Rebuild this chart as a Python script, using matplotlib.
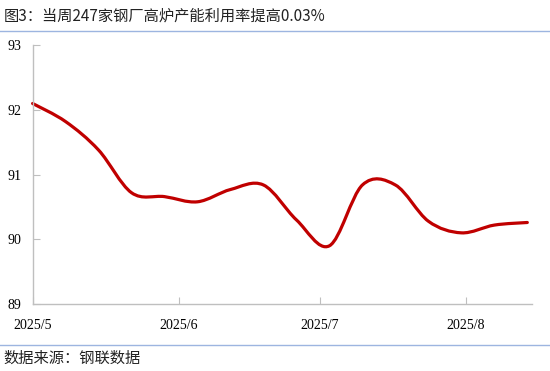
import matplotlib
matplotlib.use('Agg')
import matplotlib.pyplot as plt
import matplotlib.dates as mdates
from matplotlib.path import Path
from matplotlib.patches import PathPatch
import numpy as np
import pandas as pd

# weekly blast furnace capacity utilisation, 247 steel mills (%)
dates = ['2025-05-01', '2025-05-08', '2025-05-15', '2025-05-22', '2025-05-29',
         '2025-06-05', '2025-06-12', '2025-06-19', '2025-06-26', '2025-07-03',
         '2025-07-10', '2025-07-17', '2025-07-24', '2025-07-31', '2025-08-07',
         '2025-08-14']
utilisation = [92.10, 91.82, 91.38, 90.72, 90.66, 90.58, 90.77, 90.84,
               90.30, 89.90, 90.84, 90.84, 90.28, 90.10, 90.22, 90.26]

tick_dates = ['2025-05-01', '2025-06-01', '2025-07-01', '2025-08-01']
tick_labels = ['2025/5', '2025/6', '2025/7', '2025/8']
y_ticks = [89, 90, 91, 92, 93]

title = '图3：当周247家钢厂高炉产能利用率提高0.03%'
source = '数据来源：钢联数据'

cjk = ['Noto Sans CJK SC', 'DejaVu Sans']
serif = 'Liberation Serif'
red = '#C00000'
grey = '#BFBFBF'
blue = '#9DB5E0'

x = mdates.date2num(pd.to_datetime(dates))
y = np.array(utilisation)

fig = plt.figure(figsize=(5.5, 3.71), dpi=100)
ax = fig.add_axes([0.0593, 0.1806, 0.908, 0.6974])

# smoothed line (Excel-like), drawn as cubic bezier segments through the data
verts = [(x[0], y[0])]
codes = [Path.MOVETO]
n = len(x)
for i in range(n - 1):
    p0 = np.array([x[max(i - 1, 0)], y[max(i - 1, 0)]])
    p1 = np.array([x[i], y[i]])
    p2 = np.array([x[i + 1], y[i + 1]])
    p3 = np.array([x[min(i + 2, n - 1)], y[min(i + 2, n - 1)]])
    c1 = p1 + (p2 - p0) / 6
    c2 = p2 - (p3 - p1) / 6
    verts += [tuple(c1), tuple(c2), tuple(p2)]
    codes += [Path.CURVE4] * 3
ax.add_patch(PathPatch(Path(verts, codes), fill=False, edgecolor=red,
                       linewidth=2.3, capstyle='round', joinstyle='round',
                       clip_on=False))

ax.set_xlim(mdates.date2num(pd.Timestamp('2025-05-01')),
            mdates.date2num(pd.Timestamp('2025-08-15')))
ax.set_ylim(89, 93)
ax.set_yticks(y_ticks)
ax.set_yticklabels([str(v) for v in y_ticks], fontfamily=serif, fontsize=10)
ax.set_xticks(mdates.date2num(pd.to_datetime(tick_dates)))
ax.set_xticklabels(tick_labels, fontfamily=serif, fontsize=10)

for side in ['top', 'right']:
    ax.spines[side].set_visible(False)
for side in ['left', 'bottom']:
    ax.spines[side].set_color(grey)
    ax.spines[side].set_linewidth(1.0)
ax.tick_params(axis='y', direction='in', length=5, color=grey, pad=8,
               labelcolor='#000000')
ax.tick_params(axis='x', direction='in', length=5, color=grey, pad=11,
               labelcolor='#000000')

fig.text(0.006, 0.958, title, family=cjk, fontsize=11, va='center',
         ha='left', color='#222222')
fig.add_artist(plt.Line2D([0, 1], [1 - 31 / 371, 1 - 31 / 371],
                          color=blue, linewidth=1.0, transform=fig.transFigure))
fig.add_artist(plt.Line2D([0, 1], [1 - 345 / 371, 1 - 345 / 371],
                          color=blue, linewidth=1.0, transform=fig.transFigure))
fig.text(0.006, 1 - 358 / 371, source, family=cjk, fontsize=11, va='center',
         ha='left', color='#222222')

fig.savefig('out.png', dpi=100)
